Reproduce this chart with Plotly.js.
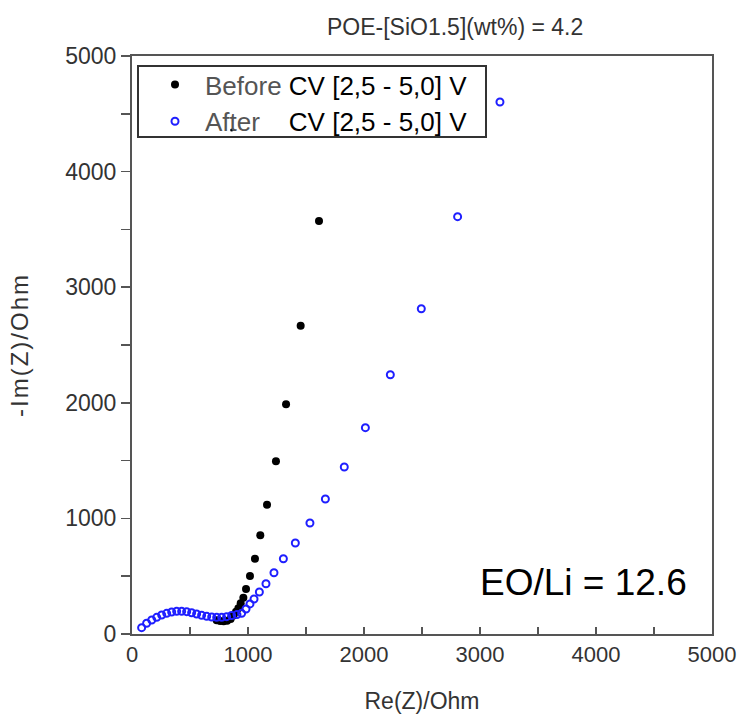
<!DOCTYPE html>
<html>
<head>
<meta charset="utf-8">
<script src="https://cdn.plot.ly/plotly-3.0.1.min.js"></script>
<style>html,body{margin:0;padding:0;background:#fff;}#chart{width:756px;height:721px;}</style>
</head>
<body>
<div id="chart"></div>
<script>
// Before CV [2,5 - 5,0] V (filled black)
const beforeRe = [730, 760, 790, 820, 850, 875, 897, 917, 937, 960, 983, 1017, 1060, 1106, 1164, 1241, 1328, 1454, 1612];
const beforeIm = [120, 112, 110, 115, 130, 160, 193, 222, 265, 314, 389, 502, 651, 854, 1119, 1494, 1987, 2667, 3573];

// After CV [2,5 - 5,0] V (open blue)
const afterRe = [83, 126, 170, 213, 256, 299, 342, 385, 428, 471, 514, 557, 600, 644, 687, 730, 773, 816, 859, 905, 945, 983, 1017, 1052, 1098, 1155, 1224, 1305, 1408, 1534, 1667, 1830, 2012, 2227, 2494, 2807, 3172];
const afterIm = [55, 93, 121, 144, 164, 179, 190, 196, 196, 193, 184, 173, 162, 153, 147, 144, 144, 150, 160, 168, 179, 216, 260, 303, 363, 435, 530, 651, 787, 960, 1168, 1445, 1785, 2243, 2814, 3610, 4602];

// stray point visible inside legend box
const strayRe = [859];
const strayIm = [4360];

const titleText = "POE-[SiO1.5](wt%) = 4.2";
const xTitle = "Re(Z)/Ohm";
const yTitle = "-Im(Z)/Ohm";
const noteText = "EO/Li = 12.6";
const xTicks = [0, 1000, 2000, 3000, 4000, 5000];
const yTicks = [0, 1000, 2000, 3000, 4000, 5000];

const nb = "\u00A0";
const traces = [
  {
    x: beforeRe, y: beforeIm, type: 'scatter', mode: 'markers',
    name: '<span style="color:#555555">Before</span>' + nb + '<span style="color:#000000">CV [2,5 - 5,0] V</span>',
    marker: {symbol: 'circle', size: 8, color: '#000000'}
  },
  {
    x: afterRe, y: afterIm, type: 'scatter', mode: 'markers',
    name: '<span style="color:#555555">After</span>' + nb+nb+nb+nb + '<span style="color:#000000">CV [2,5 - 5,0] V</span>',
    marker: {symbol: 'circle-open', size: 7, color: '#1f1fff', line: {width: 2, color: '#1f1fff'}}
  },
  {
    x: strayRe, y: strayIm, type: 'scatter', mode: 'markers', showlegend: false,
    marker: {symbol: 'circle', size: 3, color: '#000000'}, hoverinfo: 'skip'
  }
];

const px = (v) => (v - 132) / 580;
const py = (v) => (634 - v) / 578;

const layout = {
  width: 756, height: 721,
  margin: {l: 132, r: 44, t: 56, b: 87},
  paper_bgcolor: '#ffffff', plot_bgcolor: '#ffffff',
  font: {family: 'Liberation Sans, Arial, sans-serif', color: '#333333'},
  title: {text: titleText, font: {size: 23, color: '#333333'}, x: 0.602, xref: 'container', xanchor: 'center', y: 0.963, yref: 'container', yanchor: 'middle'},
  showlegend: true,
  legend: {
    x: px(145), y: py(61), xanchor: 'left', yanchor: 'top',
    bgcolor: 'rgba(0,0,0,0)', borderwidth: 0, itemwidth: 50,
    font: {size: 26, color: '#000000'}, tracegroupgap: 0
  },
  shapes: [{
    type: 'rect', xref: 'paper', yref: 'paper',
    x0: px(138), x1: px(486), y0: py(137), y1: py(66),
    line: {color: '#333333', width: 2}, fillcolor: 'rgba(0,0,0,0)'
  }],
  xaxis: {
    range: [0, 5000], tickvals: xTicks, ticktext: xTicks.map(String), ticks: 'inside', ticklen: 7, tickwidth: 1.5, tickcolor: '#555555',
    minor: {tickvals: [500, 1500, 2500, 3500, 4500], ticks: 'inside', ticklen: 7, tickwidth: 1.5, tickcolor: '#555555'},
    showline: true, linecolor: '#555555', linewidth: 2, mirror: true, showgrid: false, zeroline: false,
    tickfont: {family: 'Liberation Sans Narrow, Arial Narrow, sans-serif', size: 22, color: '#333333'},
    title: {text: xTitle, font: {size: 23, color: '#333333'}, standoff: 26}
  },
  yaxis: {
    range: [0, 5000], tickvals: yTicks, ticktext: yTicks.map(String), ticks: 'outside', ticklen: 9, tickwidth: 1.5, tickcolor: '#555555',
    minor: {tickvals: [500, 1500, 2500, 3500, 4500], ticks: 'outside', ticklen: 9, tickwidth: 1.5, tickcolor: '#555555'},
    showline: true, linecolor: '#555555', linewidth: 2, mirror: true, showgrid: false, zeroline: false,
    tickfont: {size: 23, color: '#333333'},
    title: {text: '<span style="letter-spacing:2px">' + yTitle + '</span>', font: {size: 24, color: '#333333'}, standoff: 30}
  },
  annotations: [{
    text: noteText, xref: 'paper', yref: 'paper', x: px(583), y: py(582), xanchor: 'center', yanchor: 'middle',
    showarrow: false, font: {size: 37, color: '#000000', family: 'Liberation Sans, Arial, sans-serif'}
  }]
};

Plotly.newPlot('chart', traces, layout, {displayModeBar: false, staticPlot: true});
</script>
</body>
</html>
